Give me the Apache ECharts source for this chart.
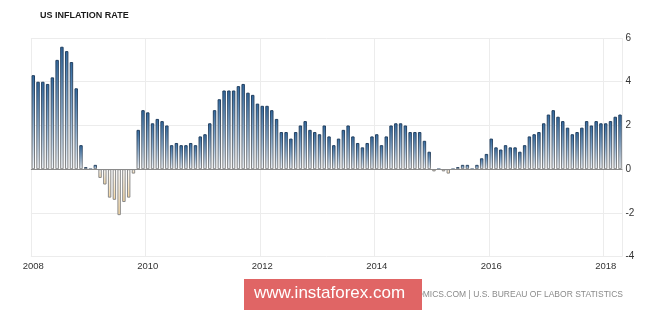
<!DOCTYPE html>
<html>
<head>
<meta charset="utf-8">
<style>
  html, body { margin: 0; padding: 0; background: #ffffff; }
  #chart { width: 665px; height: 310px; }
</style>
<script src="https://cdn.jsdelivr.net/npm/echarts@6/dist/echarts.min.js"></script>
</head>
<body>
<div id="chart"></div>
<script>
// Monthly US CPI inflation rate (% y/y), Jan 2008 .. Apr 2018
const startYear = 2008;
const inflation = [
  4.3, 4.0, 4.0, 3.9, 4.2, 5.0, 5.6, 5.4, 4.9, 3.7, 1.1, 0.1,      // 2008
  0.0, 0.2, -0.4, -0.7, -1.3, -1.4, -2.1, -1.5, -1.3, -0.2, 1.8, 2.7, // 2009
  2.6, 2.1, 2.3, 2.2, 2.0, 1.1, 1.2, 1.1, 1.1, 1.2, 1.1, 1.5,      // 2010
  1.6, 2.1, 2.7, 3.2, 3.6, 3.6, 3.6, 3.8, 3.9, 3.5, 3.4, 3.0,      // 2011
  2.9, 2.9, 2.7, 2.3, 1.7, 1.7, 1.4, 1.7, 2.0, 2.2, 1.8, 1.7,      // 2012
  1.6, 2.0, 1.5, 1.1, 1.4, 1.8, 2.0, 1.5, 1.2, 1.0, 1.2, 1.5,      // 2013
  1.6, 1.1, 1.5, 2.0, 2.1, 2.1, 2.0, 1.7, 1.7, 1.7, 1.3, 0.8,      // 2014
  -0.1, 0.0, -0.1, -0.2, 0.0, 0.1, 0.2, 0.2, 0.0, 0.2, 0.5, 0.7,   // 2015
  1.4, 1.0, 0.9, 1.1, 1.0, 1.0, 0.8, 1.1, 1.5, 1.6, 1.7, 2.1,      // 2016
  2.5, 2.7, 2.4, 2.2, 1.9, 1.6, 1.7, 1.9, 2.2, 2.0, 2.2, 2.1,      // 2017
  2.1, 2.2, 2.4, 2.5                                              // 2018
];
const tickYears = ['2008', '2010', '2012', '2014', '2016', '2018'];
const yTicks = { min: -4, max: 6, interval: 2 };
const titleText = 'US INFLATION RATE';
const sourceText = 'SOURCE: TRADINGECONOMICS.COM | U.S. BUREAU OF LABOR STATISTICS';
const watermarkText = 'www.instaforex.com';

const months = inflation.map((v, i) => {
  const y = startYear + Math.floor(i / 12);
  const m = (i % 12) + 1;
  return y + '-' + (m < 10 ? '0' + m : m);
});
const isTick = (idx) => {
  const label = months[idx];
  return label.endsWith('-01') && tickYears.indexOf(label.slice(0, 4)) >= 0;
};

const posStyle = {
  color: new echarts.graphic.LinearGradient(0, 0, 0, 1, [
    { offset: 0, color: '#3169a0' },
    { offset: 0.5, color: '#88acd0' },
    { offset: 1, color: '#f4f7fb' }
  ]),
  borderColor: new echarts.graphic.LinearGradient(0, 0, 0, 1, [
    { offset: 0, color: '#1f3d5e' },
    { offset: 1, color: '#858585' }
  ]),
  borderWidth: 1
};
const negStyle = {
  color: new echarts.graphic.LinearGradient(0, 0, 0, 1, [
    { offset: 0, color: '#ffffff' },
    { offset: 1, color: '#f3d5a0' }
  ]),
  borderColor: '#8a8a8a',
  borderWidth: 1
};

const barData = inflation.map(v => ({ value: v, itemStyle: v < 0 ? negStyle : posStyle }));

const chart = echarts.init(document.getElementById('chart'), null, { renderer: 'canvas' });
chart.setOption({
  animation: false,
  backgroundColor: '#ffffff',
  textStyle: { fontFamily: 'Liberation Sans, Arial, sans-serif' },
  grid: { left: 30.9, right: 42.6, top: 38, bottom: 53.3, containLabel: false },
  xAxis: {
    type: 'category',
    data: months,
    boundaryGap: true,
    axisLine: { show: false },
    axisTick: { show: false },
    axisLabel: {
      interval: (idx) => isTick(idx),
      formatter: (val) => val.slice(0, 4),
      color: '#333',
      fontSize: 9.5,
      margin: 5
    },
    splitLine: {
      show: true,
      interval: (idx) => isTick(idx),
      lineStyle: { color: '#ececec', width: 1 }
    }
  },
  yAxis: {
    type: 'value',
    position: 'right',
    min: yTicks.min,
    max: yTicks.max,
    interval: yTicks.interval,
    axisLine: { show: false },
    axisTick: { show: false },
    axisLabel: { color: '#333', fontSize: 10, margin: 3, align: 'left' },
    splitLine: { lineStyle: { color: '#ececec', width: 1 } }
  },
  series: [{
    type: 'bar',
    data: barData,
    barWidth: '72%',
    markLine: {
      silent: true,
      symbol: 'none',
      label: { show: false },
      lineStyle: { color: '#8a8a8a', width: 1, type: 'solid' },
      data: [{ yAxis: 0 }]
    }
  }],
  graphic: [
    {
      type: 'text', left: 40, top: 11,
      style: { text: titleText, fill: '#1a1a1a', fontSize: 9, fontWeight: 'bold', fontFamily: 'Liberation Sans, Arial, sans-serif' }
    },
    {
      type: 'text', right: 42, top: 290,
      style: { text: sourceText, fill: '#8a8a8a', fontSize: 8.5, fontFamily: 'Liberation Sans, Arial, sans-serif' }
    },
    {
      type: 'rect', left: 244, top: 279, z: 100,
      shape: { width: 178, height: 31 },
      style: { fill: '#e06565' }
    },
    {
      type: 'text', left: 254, top: 285, z: 101,
      style: { text: watermarkText, fill: '#ffffff', fontSize: 17, fontFamily: 'Liberation Sans, Arial, sans-serif' }
    }
  ]
});
</script>
</body>
</html>
